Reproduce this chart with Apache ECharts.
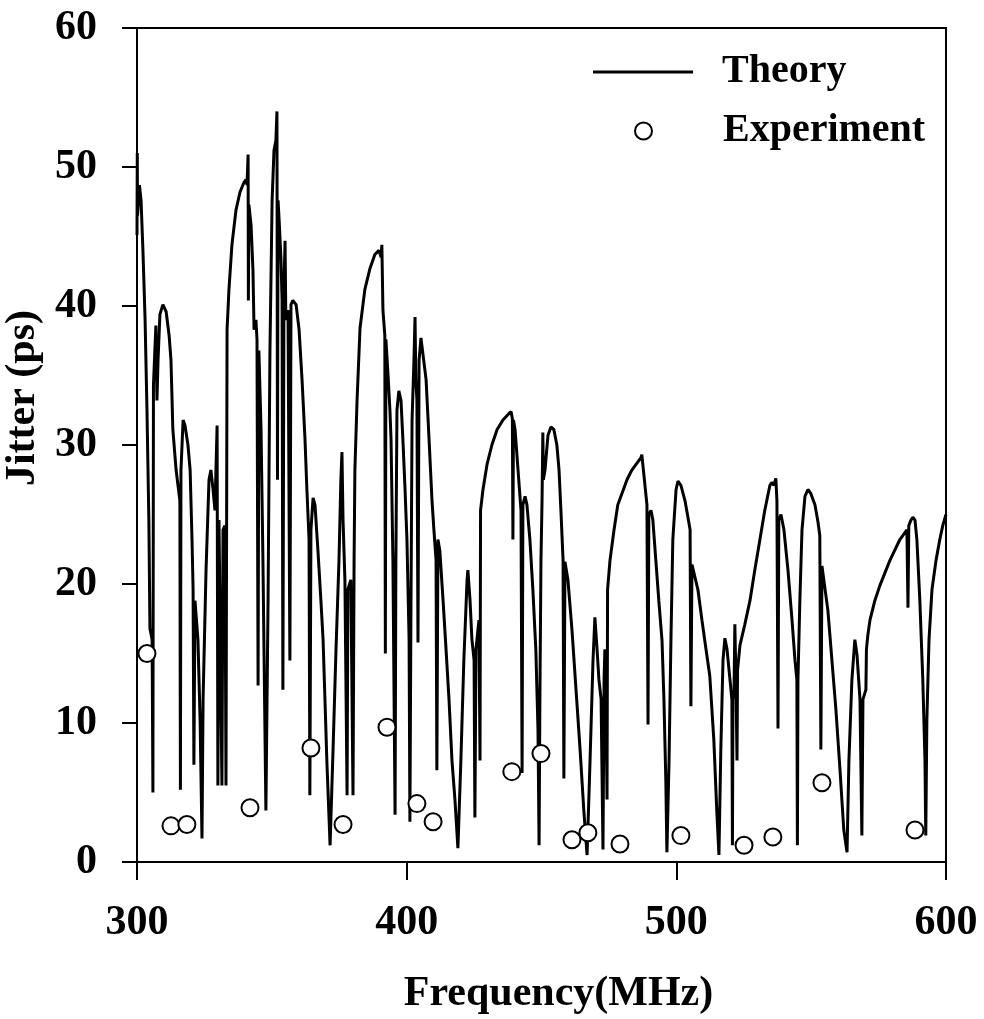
<!DOCTYPE html>
<html>
<head>
<meta charset="utf-8">
<script src="https://cdn.jsdelivr.net/npm/echarts@6/dist/echarts.min.js"></script>
<style>
html,body{margin:0;padding:0;background:#fff;}
#chart{width:984px;height:1019px;}
</style>
</head>
<body>
<div id="chart"></div>
<script>
// Theory curve (frequency in MHz, jitter in ps)
var theoryFreq = [300.0,300.1,300.2,300.9,301.5,302.2,303.0,303.7,304.4,304.8,305.6,305.9,306.1,307.0,307.4,307.8,308.5,309.6,310.8,311.9,312.6,313.3,314.5,315.9,316.1,316.3,317.1,317.8,318.9,319.7,320.4,320.8,321.1,321.5,322.6,323.4,324.1,324.5,325.6,326.7,327.4,328.2,328.9,329.7,330.0,330.4,331.1,331.5,331.9,332.6,333.0,333.4,334.1,335.2,336.7,338.2,339.7,340.4,340.8,341.2,341.3,341.5,342.3,343.0,343.4,344.1,344.5,344.9,345.2,346.0,346.7,347.8,348.6,349.3,350.1,350.8,351.5,351.9,352.1,352.3,352.7,353.4,353.8,354.1,354.5,354.9,355.2,356.0,356.7,357.1,357.8,359.0,360.1,361.2,362.3,363.0,363.8,364.1,364.5,365.3,366.0,367.1,368.2,369.0,369.7,370.4,371.6,372.7,373.8,374.9,375.6,376.0,376.4,377.1,377.9,378.2,379.3,380.1,380.5,380.8,381.6,382.7,384.5,386.4,388.2,389.7,390.5,390.8,391.2,391.9,392.1,392.3,393.1,393.8,394.2,394.9,395.7,396.0,396.4,397.1,397.9,398.6,399.4,400.1,400.9,401.2,401.6,402.0,402.7,403.1,403.4,403.8,404.2,404.6,405.3,406.0,407.2,408.3,409.4,410.1,410.9,411.2,411.6,412.3,413.5,414.6,415.7,416.8,417.9,419.0,420.1,421.2,422.4,422.7,423.5,424.2,425.0,425.3,425.7,426.8,427.2,427.4,428.3,429.8,431.6,433.5,435.7,437.6,438.7,439.2,439.4,439.6,440.2,441.3,442.4,442.8,443.1,443.9,444.6,445.7,446.8,447.9,448.7,449.1,449.4,449.8,450.2,450.5,450.7,451.3,452.4,453.5,454.6,455.7,456.5,457.2,458.0,458.3,458.7,459.8,461.3,462.8,464.3,465.7,466.9,468.0,469.1,469.8,470.6,471.3,472.1,472.8,473.2,473.5,473.9,474.3,474.5,475.4,476.9,478.3,479.8,481.7,483.5,485.4,486.9,487.2,488.0,489.1,489.5,489.8,490.6,491.3,492.4,493.5,494.7,495.4,496.1,496.5,497.3,498.0,498.7,499.9,500.6,501.7,503.2,504.3,505.1,505.4,505.8,506.5,508.0,509.5,511.0,512.4,513.9,515.0,515.8,516.5,517.3,518.0,518.8,519.9,520.6,520.8,521.0,521.4,521.7,522.1,522.5,522.7,523.6,525.4,527.3,529.1,531.0,532.8,534.7,535.4,536.2,536.9,537.3,537.7,538.0,538.8,539.9,541.4,542.9,544.0,544.7,544.9,545.1,545.8,546.6,547.7,548.8,549.9,551.4,552.5,553.2,553.6,554.0,554.7,556.2,557.7,559.2,560.7,562.1,563.3,564.0,565.1,566.2,567.0,568.1,568.8,569.2,570.3,570.5,571.0,571.8,573.6,575.5,579.2,582.9,585.5,585.9,586.2,587.0,587.7,588.5,589.2,590.3,591.4,592.2,592.5,592.9,593.7,594.8,596.3,597.7,598.8,600.0];
var theoryJitter = [45.1,51.0,46.5,48.7,47.6,44.0,39.0,32.5,24.6,16.8,16.0,5.0,34.3,38.6,33.2,36.1,39.4,40.1,39.6,37.9,36.1,31.1,28.2,26.0,5.2,28.2,31.8,31.4,30.0,28.2,23.2,19.6,7.0,18.8,16.0,10.2,1.7,11.7,21.0,27.5,28.2,26.8,25.3,31.4,5.5,24.6,24.6,5.5,23.9,24.2,5.5,38.3,41.2,44.4,46.9,48.2,48.9,49.1,48.7,50.9,40.4,47.3,45.8,42.6,38.3,39.0,37.6,12.7,36.8,31.1,21.7,3.7,18.8,36.8,47.6,51.2,51.9,54.0,27.5,47.6,46.2,43.3,40.4,12.4,41.2,44.7,39.0,39.7,14.5,40.1,40.4,40.1,38.3,34.7,30.4,26.8,23.2,4.8,23.9,26.2,25.7,22.4,18.8,16.0,11.7,7.3,1.2,8.1,15.3,21.7,27.5,29.5,24.6,20.3,4.8,19.6,20.3,4.8,21.7,28.2,33.2,38.4,41.2,42.7,43.7,44.0,43.5,44.4,39.7,37.9,15.0,37.6,35.0,32.5,30.4,21.7,3.4,21.7,32.5,33.9,33.2,30.4,26.8,23.2,16.0,2.9,18.8,31.8,36.1,39.2,34.7,33.2,15.8,36.1,37.7,37.6,34.7,30.4,26.0,23.9,21.7,6.6,23.2,22.4,18.8,15.3,11.7,7.3,4.5,1.0,7.3,14.5,20.3,21.0,18.8,16.0,14.5,3.2,15.3,17.4,7.3,25.3,26.8,28.6,30.0,31.1,31.8,32.2,32.4,31.9,23.2,31.8,31.1,28.2,25.3,6.4,25.7,26.3,25.7,23.2,19.6,15.3,9.5,1.2,11.7,21.7,26.0,30.9,27.5,28.2,30.7,31.3,31.1,30.0,28.2,25.3,21.7,6.0,21.6,20.3,16.7,12.4,8.1,3.7,0.5,7.3,14.5,17.6,15.3,13.1,11.7,0.9,13.1,15.3,11.7,4.5,19.6,21.7,23.9,25.7,26.5,27.5,28.2,28.7,29.1,29.3,27.8,25.7,9.9,25.0,25.3,24.6,21.7,18.8,15.9,11.7,5.9,0.7,7.3,16.0,23.2,26.8,27.4,27.1,26.0,24.8,23.9,11.2,21.4,21.3,19.6,17.4,15.3,13.4,8.8,3.7,0.5,8.1,14.5,16.1,15.3,13.1,11.7,1.2,11.7,12.4,17.1,13.1,7.3,13.8,15.6,17.1,18.8,21.0,23.2,25.3,27.1,27.3,27.1,27.6,26.0,9.6,24.6,25.0,23.9,21.0,17.4,14.5,13.1,1.2,13.1,18.8,23.9,26.3,26.8,26.5,25.7,24.5,23.5,8.1,21.3,21.2,18.1,14.5,10.9,6.6,2.3,0.7,7.3,13.1,16.0,14.9,11.7,1.9,11.7,12.4,15.3,16.3,17.4,18.8,19.9,21.7,23.2,23.9,18.3,24.2,24.6,24.8,24.6,23.2,18.8,13.1,7.3,1.9,10.2,16.0,19.6,21.7,23.2,24.2,25.0];

// Experiment points
var expFreq = [303.7,312.6,318.5,341.9,364.5,376.4,392.7,403.8,409.8,439.0,449.8,461.3,467.2,479.1,501.7,525.1,535.8,554.0,588.5];
var expJitter = [15.0,2.6,2.7,3.9,8.2,2.7,9.7,4.2,2.9,6.5,7.8,1.6,2.1,1.3,1.9,1.2,1.8,5.7,2.3];

// Axis ticks
var xTicks = [300,400,500,600];
var yTicks = [0,10,20,30,40,50,60];

var theoryData = theoryFreq.map(function(f,i){return [f, theoryJitter[i]];});
var expData = expFreq.map(function(f,i){return [f, expJitter[i]];});

var FONT = "'Liberation Serif','Times New Roman',serif";
var chart = echarts.init(document.getElementById('chart'), null, {renderer:'canvas'});
chart.setOption({
  animation:false,
  backgroundColor:'#fff',
  grid:{left:137,right:38,top:28,bottom:157,containLabel:false,outerBoundsMode:'none',
    show:true,borderColor:'#000',borderWidth:2,backgroundColor:'transparent'},
  legend:[
    {data:[{name:'Theory',icon:'rect',itemStyle:{color:'#000'}}],left:593,top:52,padding:0,itemWidth:100,itemHeight:3,
     textStyle:{fontFamily:FONT,fontWeight:'bold',fontSize:40,color:'#000',padding:[0,0,0,24]}},
    {data:[{name:'Experiment',icon:'circle',itemStyle:{color:'#fff',borderColor:'#000',borderWidth:2}}],
     left:634,top:111,padding:0,itemWidth:17,itemHeight:17,
     textStyle:{fontFamily:FONT,fontWeight:'bold',fontSize:40,color:'#000',padding:[0,0,0,66]}}
  ],
  xAxis:{type:'value',min:xTicks[0],max:xTicks[xTicks.length-1],interval:100,
    name:'Frequency(MHz)',nameLocation:'middle',nameGap:111,
    nameTextStyle:{fontFamily:FONT,fontWeight:'bold',fontSize:42,color:'#000',padding:[0,0,0,34]},
    axisLine:{show:true,onZero:false,lineStyle:{color:'#000',width:2}},
    axisTick:{show:true,inside:false,length:18,lineStyle:{color:'#000',width:2}},
    axisLabel:{margin:40,fontFamily:FONT,fontWeight:'bold',fontSize:42,color:'#000'},
    splitLine:{show:false}},
  yAxis:{type:'value',min:yTicks[0],max:yTicks[yTicks.length-1],interval:10,
    name:'Jitter (ps)',nameLocation:'middle',nameGap:88,
    nameTextStyle:{fontFamily:FONT,fontWeight:'bold',fontSize:42,color:'#000',padding:[0,0,0,94]},
    axisLine:{show:true,lineStyle:{color:'#000',width:2}},
    axisTick:{show:true,inside:false,length:15,lineStyle:{color:'#000',width:2}},
    axisLabel:{margin:40,fontFamily:FONT,fontWeight:'bold',fontSize:42,color:'#000'},
    splitLine:{show:false}},
  series:[
    {name:'Theory',type:'line',data:theoryData,symbol:'none',showSymbol:false,
     lineStyle:{color:'#000',width:3},itemStyle:{color:'#000'},z:2},
    {name:'Experiment',type:'scatter',data:expData,symbol:'circle',symbolSize:17,
     itemStyle:{color:'#fff',borderColor:'#000',borderWidth:2,opacity:1},z:5}
  ]
});
</script>
</body>
</html>
